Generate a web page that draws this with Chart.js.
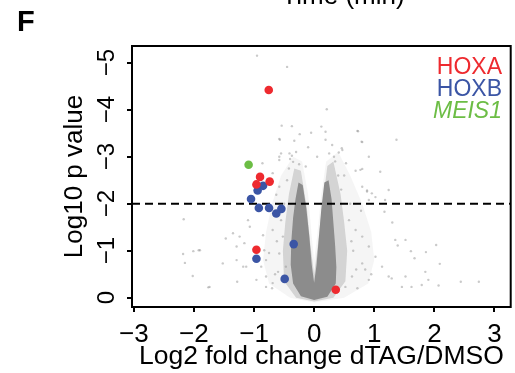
<!DOCTYPE html>
<html>
<head>
<meta charset="utf-8">
<script src="https://cdn.jsdelivr.net/npm/chart.js@4.4.0/dist/chart.umd.min.js"></script>
<style>
  html, body { margin: 0; padding: 0; background: #fff; }
  canvas { display: block; }
</style>
</head>
<body>
<canvas id="volcano" width="515" height="373"></canvas>
<script>
// Volcano plot: log2 fold change dTAG/DMSO vs log10 p value

const FONT = "'Liberation Sans', Arial, Helvetica, sans-serif";

// axes
const xLimits = [-3.03, 3.27];
const yLimits = [-5.355, 0.198];
const xTicks = [-3, -2, -1, 0, 1, 2, 3];
const yTicks = [0, -1, -2, -3, -4, -5];
const threshold = -2;

// highlighted genes
const hoxaX = [-0.755, -0.90, -0.96, -0.74, -0.96, 0.36];
const hoxaY = [-4.42, -2.57, -2.41, -2.47, -1.02, -0.17];
const hoxbX = [-0.85, -0.94, -1.05, -0.92, -0.75, -0.545, -0.63, -0.96, -0.34, -0.49];
const hoxbY = [-2.38, -2.28, -2.10, -1.91, -1.91, -1.89, -1.79, -0.83, -1.14, -0.40];
const meisX = [-1.09];
const meisY = [-2.83];

// sparse background genes (read by eye)
const grayX = [-0.95, -0.45, 0.21, -0.54, -0.37, 0.12, -0.24, -0.05, 0.19, 0.72, 0.73, 1.37, -0.58, -0.57, -0.33, 0.19, 0.79, 0.80, 0.47, 0.41,
  -0.55, -0.41, -0.37, 0.25, 0.46, -0.58, 0.91, -0.58, -0.35, -0.86, -0.25, -0.14, 0.53, 0.77, 0.69, 0.80, 1.10, -0.69, -0.58, 0.80,
  0.88, 0.88, 1.24, 0.96, -0.63, 1.02, 0.91, 1.18, 1.17, 1.30,
  -2.17, -2.18, -2.15, -2.01, -1.92, -2.02, -1.76, -1.47, -1.35, -1.52, -1.29, -1.28, -1.13, -1.16, -1.10, -1.07, -0.85, -0.83, -0.88, -0.80,
  -0.96, -1.24, -1.29, -1.18, -0.80, -0.80, -0.69, -0.69, -0.55, -0.52, -0.58, -0.47, -1.90, -1.74,
  0.58, 0.69, 0.80, 0.91, 1.02, 1.13, 0.80, 0.63, 0.91, 0.52, 1.24, 1.35, 1.52, 1.61, 1.86, 2.03, 2.09, 1.67, 1.90, 2.07,
  2.44, 2.74, 1.79, 1.62, 1.52, 1.39, 1.85, 1.46, 1.29,
  -0.50, -0.45, 0.45, 0.50, -0.62, 0.65, 0.70, -0.65, 0.60, -0.42, 0.35, 0.05, -0.10, 0.30,
  -0.70, -0.60, -0.75, -0.66, 0.72, 0.85, 0.62, 0.78, 0.95, -0.40, 0.40, -0.30, 0.33];
const grayY = [-5.15, -4.91, -4.01, -3.66, -3.65, -3.64, -3.48, -3.51, -3.53, -3.55, -3.54, -3.36, -3.38, -3.36, -3.34, -3.36, -3.32, -3.31, -3.14, -3.09,
  -3.07, -3.07, -3.02, -3.07, -3.18, -3.00, -3.00, -2.93, -2.89, -2.86, -2.84, -2.79, -2.86, -2.72, -2.70, -2.74, -2.68, -2.65, -2.36, -2.36,
  -2.28, -2.26, -2.29, -2.22, -2.19, -2.14, -2.08, -2.08, -1.83, -1.60,
  -1.67, -0.93, -0.74, -0.99, -1.01, -0.46, -0.22, -1.26, -1.37, -0.73, -0.80, -0.34, -0.66, -1.16, -1.65, -1.51, -1.33, -1.01, -0.66, -0.23,
  -0.38, -1.30, -1.09, -0.66, -0.80, -0.45, -0.31, -1.44, -1.65, -1.30, -0.94, -0.66, -1.01, -0.23,
  -1.65, -1.44, -1.30, -1.09, -0.87, -0.66, -0.73, -0.45, -0.38, -0.23, -0.45, -1.23, -1.23, -0.99, -0.97, -1.12, -0.72, -0.84, -0.38, -0.26,
  -0.34, -0.34, -0.27, -0.23, -0.45, -1.11, -0.55, -0.23, -0.41,
  -2.00, -2.50, -2.30, -2.60, -1.20, -1.00, -0.60, -0.50, -2.00, -2.75, -2.90, -3.00, -3.20, -3.25,
  -0.20, -0.55, -0.95, -1.75, -0.20, -0.60, -1.20, -1.85, -0.50, -2.95, -2.60, -3.10, -3.00];

// outlines of the dense V-shaped cloud, outer to inner
const haloX = [0, -0.40, -0.75, -0.85, -0.80, -0.70, -0.55, -0.35, -0.20, -0.10, -0.04, 0, 0.05, 0.12, 0.20, 0.40, 0.60, 0.80, 0.95, 1.00, 0.90, 0.50];
const haloY = [0.10, 0.00, -0.30, -0.80, -1.40, -2.00, -2.60, -3.00, -2.90, -2.20, -1.30, -0.80, -1.30, -2.20, -2.90, -3.10, -2.60, -2.00, -1.40, -0.80, -0.30, 0.00];
const midX = [0, -0.30, -0.50, -0.52, -0.48, -0.42, -0.33, -0.22, -0.12, -0.06, 0, 0.06, 0.13, 0.22, 0.32, 0.44, 0.50, 0.55, 0.52, 0.32];
const midY = [0.08, 0.00, -0.35, -1.00, -1.60, -2.20, -2.75, -2.70, -1.90, -1.10, -0.50, -1.10, -1.90, -2.80, -2.90, -2.20, -1.60, -1.00, -0.35, 0.00];
const coreX = [0, -0.22, -0.35, -0.39, -0.38, -0.35, -0.31, -0.26, -0.19, -0.13, -0.08, -0.04, 0, 0.04, 0.08, 0.12, 0.17, 0.24, 0.29, 0.32, 0.35, 0.37, 0.36, 0.22];
const coreY = [0.05, -0.03, -0.30, -0.70, -1.20, -1.70, -2.10, -2.45, -2.40, -1.90, -1.30, -0.70, -0.32, -0.70, -1.30, -1.90, -2.45, -2.50, -2.10, -1.60, -1.10, -0.65, -0.30, -0.02];

const toPoints = (xs, ys) => xs.map((x, i) => ({ x, y: ys[i] }));
const minusSign = v => (v < 0 ? "\u2212" + Math.abs(v) : String(v));

function cloudLayer(xs, ys, color, order) {
  return {
    type: "line",
    data: toPoints(xs, ys),
    backgroundColor: color,
    borderColor: "rgba(0,0,0,0)",
    borderWidth: 0,
    pointRadius: 0,
    tension: 0,
    fill: "shape",
    order,
  };
}

function geneSet(label, xs, ys, color, italic, order) {
  return {
    type: "scatter",
    label,
    legend: true,
    italic,
    data: toPoints(xs, ys),
    pointRadius: 4.3,
    pointBackgroundColor: color,
    pointBorderWidth: 0,
    backgroundColor: color,
    order,
  };
}

// box, rotated y labels, inset legend and panel text
const decorations = {
  id: "decorations",
  afterDraw(chart) {
    const { ctx, chartArea: a, scales } = chart;
    ctx.save();
    ctx.strokeStyle = "#000";
    ctx.lineWidth = 2;
    ctx.strokeRect(a.left, a.top, a.right - a.left, a.bottom - a.top);

    ctx.fillStyle = "#000";
    ctx.font = "24px " + FONT;
    ctx.textAlign = "center";
    ctx.textBaseline = "alphabetic";
    yTicks.forEach(v => {
      ctx.save();
      ctx.translate(114, scales.y.getPixelForValue(v));
      ctx.rotate(-Math.PI / 2);
      ctx.fillText(minusSign(v), 0, 0);
      ctx.restore();
    });

    ctx.textAlign = "right";
    let y = 73.5;
    chart.data.datasets.filter(d => d.legend).forEach(d => {
      ctx.font = (d.italic ? "italic " : "") + "23px " + FONT;
      ctx.fillStyle = d.backgroundColor;
      ctx.fillText(d.label, 502, y);
      y += 22;
    });

    ctx.fillStyle = "#000";
    ctx.textAlign = "left";
    ctx.font = "bold 29px " + FONT;
    ctx.fillText("F", 17, 31);
    ctx.textAlign = "center";
    ctx.font = "26px " + FONT;
    ctx.fillText("Time (min)", 343, 4);
    ctx.restore();
  },
};

Chart.defaults.font.family = FONT;
Chart.defaults.color = "#000";

new Chart(document.getElementById("volcano"), {
  type: "scatter",
  data: {
    datasets: [
      geneSet("HOXA", hoxaX, hoxaY, "#ee2a2f", false, 1),
      geneSet("HOXB", hoxbX, hoxbY, "#3b55a5", false, 1),
      geneSet("MEIS1", meisX, meisY, "#6cbd45", true, 1),
      {
        type: "line",
        data: toPoints(xLimits, [threshold, threshold]),
        borderColor: "#000",
        borderWidth: 2,
        borderDash: [8, 5],
        pointRadius: 0,
        fill: false,
        order: 3,
      },
      cloudLayer(coreX, coreY, "#8c8c8c", 4),
      {
        type: "scatter",
        data: toPoints(grayX, grayY),
        pointRadius: 1.2,
        pointBorderWidth: 0,
        pointBackgroundColor: "rgba(150,150,150,0.5)",
        order: 5,
      },
      cloudLayer(midX, midY, "rgba(150,150,150,0.35)", 6),
      cloudLayer(haloX, haloY, "rgba(160,160,160,0.1)", 7),
    ],
  },
  options: {
    responsive: false,
    animation: false,
    layout: { padding: { top: 46, right: 2, left: 0, bottom: 0 } },
    plugins: { legend: { display: false }, tooltip: { enabled: false } },
    scales: {
      x: {
        type: "linear",
        min: xLimits[0],
        max: xLimits[1],
        afterBuildTicks: s => { s.ticks = xTicks.map(value => ({ value })); },
        afterFit: s => { s.height = 66; },
        grid: { drawOnChartArea: false, drawTicks: true, tickLength: 5, color: "#000", lineWidth: 2 },
        border: { display: false },
        ticks: { padding: 7, font: { size: 26 }, callback: minusSign },
        title: { display: true, text: "Log2 fold change dTAG/DMSO", font: { size: 26.5 }, padding: { top: 0, bottom: 0 } },
      },
      y: {
        type: "linear",
        reverse: true,
        min: yLimits[0],
        max: yLimits[1],
        afterBuildTicks: s => { s.ticks = yTicks.map(value => ({ value })); },
        afterFit: s => { s.width = 132; },
        grid: { drawOnChartArea: false, drawTicks: true, tickLength: 5, color: "#000", lineWidth: 2 },
        border: { display: false },
        ticks: { display: false },
        title: { display: true, text: "Log10 p value", font: { size: 26 }, padding: { top: 59, bottom: 0 } },
      },
    },
  },
  plugins: [decorations],
});
</script>
</body>
</html>
